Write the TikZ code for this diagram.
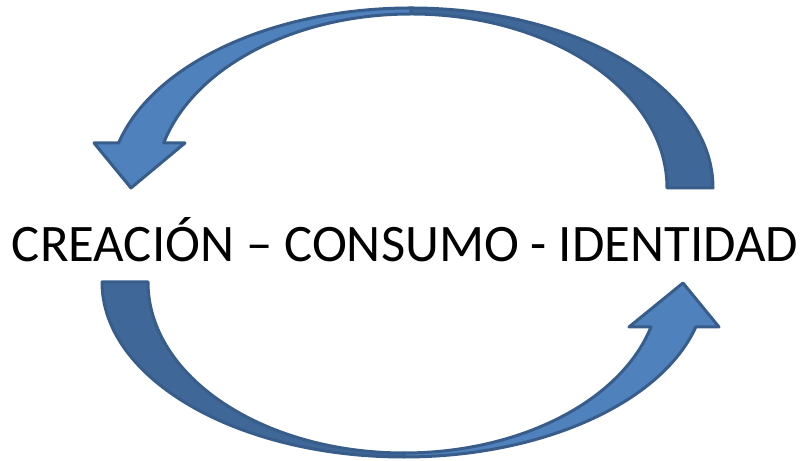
\documentclass[tikz,border=0pt]{standalone}
\usepackage{fontspec}
\setmainfont{Carlito}
\usepackage{tikz}
\definecolor{arrowlight}{HTML}{4F81BD}
\definecolor{arrowdark}{HTML}{3F6797}
\definecolor{arrowline}{HTML}{385D8A}

\begin{document}
\begin{tikzpicture}[x=0.03cm, y=0.03cm,
    arrowfront/.style={draw=arrowline, line width=0.09cm, line join=round, fill=arrowlight},
    arrowback/.style={draw=arrowline, line width=0.09cm, line join=round, fill=arrowdark}]
    \useasboundingbox (0,0) rectangle (807,461);
    % upper arrow, right to left
    \draw[arrowback] (713,273) arc[start angle=0, end angle=90, x radius=302, y radius=180]
        -- (411,447) arc[start angle=90, end angle=0, x radius=256, y radius=174] -- cycle;
    \draw[arrowfront] (411,453) arc[start angle=90, end angle=165.52, x radius=302, y radius=180]
        -- (94,318) -- (131,273) -- (185,318) -- (163.7,318)
        arc[start angle=165.01, end angle=90, x radius=256, y radius=174] -- cycle;
    % lower arrow, left to right
    \draw[arrowback] (102,179) arc[start angle=180, end angle=270, x radius=302, y radius=175]
        -- (404,8) arc[start angle=270, end angle=180, x radius=256, y radius=171] -- cycle;
    \draw[arrowfront] (404,4) arc[start angle=270, end angle=345.1, x radius=302, y radius=175]
        -- (719,134) -- (683,178) -- (629,134) -- (651,134)
        arc[start angle=344.74, end angle=270, x radius=256, y radius=171] -- cycle;
    %
    \node[anchor=base, inner sep=0pt, font=\fontsize{45}{54}\selectfont] (lema) at (405,199)
        {CREACIÓN – CONSUMO - IDENTIDAD};
\end{tikzpicture}
\end{document}
